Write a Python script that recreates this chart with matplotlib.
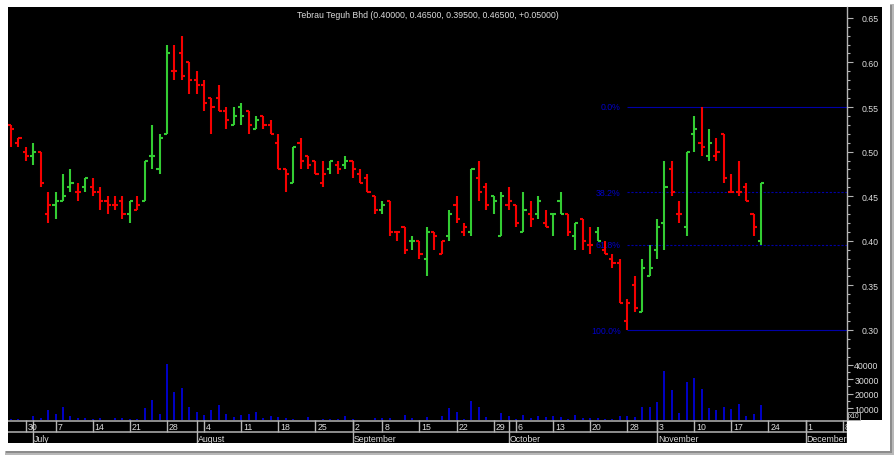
import numpy as np
import matplotlib
matplotlib.use("Agg")
import matplotlib.pyplot as plt
from matplotlib.collections import LineCollection
from matplotlib.patches import Rectangle

plt.rcParams["font.family"] = ["Liberation Sans", "DejaVu Sans"]

# Tebrau Teguh Bhd - daily bars, 26 Jun .. 21 Nov (trading days)
title = "Tebrau Teguh Bhd (0.40000, 0.46500, 0.39500, 0.46500, +0.05000)"

opens = [0.530, 0.510, 0.500, 0.495, 0.500, 0.430, 0.440, 0.445, 0.460, 0.455,
         0.460, 0.460, 0.455, 0.445, 0.440, 0.445, 0.430, 0.435, 0.445, 0.495,
         0.480, 0.520, 0.590, 0.610, 0.600, 0.580, 0.575, 0.560, 0.560, 0.545,
         0.530, 0.550, 0.545, 0.525, 0.540, 0.530, 0.510, 0.480, 0.465, 0.510,
         0.495, 0.490, 0.465, 0.480, 0.485, 0.485, 0.490, 0.475, 0.470, 0.450,
         0.435, 0.445, 0.410, 0.415, 0.400, 0.400, 0.380, 0.410, 0.385, 0.405,
         0.440, 0.410, 0.410, 0.470, 0.460, 0.450, 0.405, 0.440, 0.440, 0.410,
         0.430, 0.430, 0.420, 0.430, 0.445, 0.430, 0.405, 0.425, 0.395, 0.410,
         0.390, 0.380, 0.375, 0.310, 0.350, 0.320, 0.360, 0.390, 0.420, 0.480,
         0.430, 0.415, 0.520, 0.510, 0.495, 0.495, 0.520, 0.455, 0.455, 0.460,
         0.430, 0.400]
highs = [0.530, 0.515, 0.505, 0.510, 0.500, 0.455, 0.455, 0.475, 0.480, 0.465,
         0.470, 0.470, 0.460, 0.450, 0.450, 0.450, 0.445, 0.450, 0.490, 0.530,
         0.520, 0.620, 0.620, 0.630, 0.600, 0.590, 0.580, 0.560, 0.575, 0.550,
         0.550, 0.555, 0.545, 0.540, 0.540, 0.535, 0.520, 0.480, 0.505, 0.515,
         0.495, 0.490, 0.490, 0.490, 0.490, 0.495, 0.490, 0.480, 0.475, 0.450,
         0.445, 0.445, 0.410, 0.415, 0.405, 0.400, 0.415, 0.410, 0.400, 0.435,
         0.450, 0.420, 0.480, 0.490, 0.465, 0.450, 0.455, 0.460, 0.440, 0.455,
         0.445, 0.450, 0.435, 0.430, 0.455, 0.430, 0.420, 0.425, 0.415, 0.415,
         0.400, 0.385, 0.380, 0.335, 0.360, 0.380, 0.395, 0.425, 0.490, 0.490,
         0.445, 0.500, 0.540, 0.550, 0.525, 0.515, 0.520, 0.475, 0.490, 0.465,
         0.430, 0.465]
lows = [0.505, 0.505, 0.490, 0.485, 0.460, 0.420, 0.425, 0.445, 0.455, 0.445,
        0.455, 0.450, 0.435, 0.430, 0.435, 0.425, 0.420, 0.435, 0.445, 0.480,
        0.475, 0.520, 0.580, 0.580, 0.565, 0.565, 0.545, 0.520, 0.545, 0.525,
        0.530, 0.530, 0.520, 0.525, 0.525, 0.520, 0.480, 0.455, 0.465, 0.480,
        0.480, 0.475, 0.460, 0.475, 0.475, 0.480, 0.470, 0.465, 0.455, 0.430,
        0.430, 0.405, 0.400, 0.385, 0.390, 0.380, 0.360, 0.390, 0.385, 0.400,
        0.420, 0.405, 0.405, 0.445, 0.435, 0.430, 0.405, 0.435, 0.415, 0.410,
        0.415, 0.425, 0.415, 0.405, 0.430, 0.405, 0.390, 0.390, 0.385, 0.400,
        0.385, 0.370, 0.330, 0.300, 0.320, 0.320, 0.360, 0.380, 0.390, 0.450,
        0.420, 0.405, 0.500, 0.495, 0.490, 0.490, 0.465, 0.455, 0.450, 0.445,
        0.405, 0.395]
closes = [0.525, 0.515, 0.495, 0.500, 0.465, 0.440, 0.445, 0.450, 0.465, 0.455,
          0.470, 0.455, 0.445, 0.440, 0.440, 0.430, 0.445, 0.440, 0.490, 0.495,
          0.515, 0.610, 0.590, 0.585, 0.580, 0.575, 0.555, 0.550, 0.545, 0.535,
          0.540, 0.540, 0.530, 0.535, 0.530, 0.520, 0.480, 0.475, 0.505, 0.490,
          0.485, 0.475, 0.475, 0.490, 0.480, 0.490, 0.480, 0.465, 0.455, 0.435,
          0.440, 0.410, 0.410, 0.390, 0.400, 0.385, 0.410, 0.405, 0.400, 0.430,
          0.425, 0.415, 0.480, 0.455, 0.440, 0.445, 0.450, 0.445, 0.420, 0.435,
          0.425, 0.445, 0.415, 0.430, 0.430, 0.410, 0.420, 0.400, 0.395, 0.400,
          0.385, 0.375, 0.330, 0.330, 0.325, 0.370, 0.370, 0.415, 0.460, 0.455,
          0.430, 0.500, 0.525, 0.505, 0.510, 0.500, 0.470, 0.455, 0.455, 0.445,
          0.415, 0.465]
volumes = [2800, 2400, 1000, 4500, 3300, 8600, 5800, 11000, 4900, 3100,
           3100, 2400, 3500, 2000, 3300, 3500, 2800, 2800, 10400, 15500,
           6000, 40700, 21200, 23900, 10900, 7400, 5400, 8800, 12200, 5800,
           4200, 5400, 5800, 7400, 3300, 4500, 4200, 3300, 2600, 2000,
           4000, 2000, 2800, 2800, 2800, 4900, 2400, 2000, 1700, 3300,
           3100, 3100, 2000, 5400, 3300, 2000, 3800, 1700, 4500, 10000,
           7400, 2400, 15000, 11100, 3800, 1700, 7000, 4500, 2400, 5600,
           3300, 4500, 3800, 4900, 4000, 2400, 5600, 3300, 3500, 3300,
           2800, 2600, 4700, 4900, 4000, 10700, 10900, 14300, 35900, 22600,
           7000, 28100, 30600, 23300, 10400, 8600, 10900, 9500, 12900, 4900,
           6300, 12000]

# date scale (positions are trading-day bar numbers)
day_ticks = [2, 6, 11, 16, 21, 26, 31, 36, 41, 46, 50, 55, 60, 65, 68, 73,
             78, 83, 87, 92, 97, 102, 107, 112]
day_labels = ["30", "7", "14", "21", "28", "4", "11", "18", "25", "2", "8",
              "15", "22", "29", "6", "13", "20", "28", "3", "10", "17", "24",
              "1", "8"]
month_ticks = [3, 25, 46, 67, 87, 107]
month_labels = ["July", "August", "September", "October", "November", "December"]

# fibonacci retracement drawn from the October low
fib_high = 0.55
fib_low = 0.30
fib_start = 83
fib_ratios = [0.0, 0.382, 0.618, 1.0]
fib_labels = ["0.0%", "38.2%", "61.8%", "100.0%"]

RED = "#f50000"
GREEN = "#33cc33"
GREY = "#b4b4b4"
TXT = "#dcdcdc"
W, H = 894, 456
XL = (-0.404, 112.58)


def frac(x0, y0, x1, y1):
    # pixel box (top-left origin) -> figure fraction [left, bottom, w, h]
    return [x0 / W, 1 - y1 / H, (x1 - x0) / W, (y1 - y0) / H]


def rect(x0, y0, x1, y1, color, z):
    l, b, w, h = frac(x0, y0, x1, y1)
    fig.add_artist(Rectangle((l, b), w, h, transform=fig.transFigure,
                             facecolor=color, edgecolor="none", zorder=z))


fig = plt.figure(figsize=(W / 100, H / 100), dpi=100)
fig.patch.set_facecolor("white")

# frame, shadow and black chart area
rect(5, 5, 894, 456, "#b8b8b8", -20)
rect(6, 6, 892, 454, "#8c8c8c", -19)
rect(0, 0, 890, 452, "white", -18)
rect(8, 8, 882, 421, "black", -17)
rect(8, 421, 847, 444, "black", -17)

# ---- price panel ----
ax = fig.add_axes(frac(8, 8, 847, 360))
ax.set_facecolor("black")
ax.set_xlim(*XL)
ax.set_ylim(0.30 - 29 / 892, 0.30 + 323 / 892)

# colour: up on previous close -> green, down -> red, unchanged keeps colour
cols = []
prev_col = RED
for i in range(len(closes)):
    if i > 0 and closes[i] > closes[i - 1]:
        prev_col = GREEN
    elif i > 0 and closes[i] < closes[i - 1]:
        prev_col = RED
    cols.append(prev_col)

tw = 0.42
segs, seg_cols = [], []
for i in range(len(closes)):
    segs.append([(i, lows[i]), (i, highs[i])])
    segs.append([(i - tw, opens[i]), (i, opens[i])])
    segs.append([(i, closes[i]), (i + tw, closes[i])])
    seg_cols += [cols[i]] * 3
ax.add_collection(LineCollection(segs, colors=seg_cols, linewidths=1.5,
                                 capstyle="butt", zorder=3))

for r, lab in zip(fib_ratios, fib_labels):
    lvl = fib_high - r * (fib_high - fib_low)
    ls = "-" if r in (0.0, 1.0) else (0, (2, 1.5))
    ax.hlines(lvl, fib_start, XL[1], colors="#0000a8", linewidth=0.8,
              linestyles=ls, zorder=2)
    ax.text(82.1, lvl, lab, ha="right", va="center", fontsize=6.3,
            color="#0000c8", zorder=1)

ax.yaxis.tick_right()
ax.set_yticks(np.arange(0.30, 0.651, 0.05))
ax.set_yticklabels([f"{v:.2f}" for v in np.arange(0.30, 0.651, 0.05)])
ax.set_yticks(np.arange(0.27, 0.655, 0.01), minor=True)
ax.tick_params(axis="y", which="major", direction="out", length=4.3, width=0.8,
               color=GREY, labelcolor=TXT, labelsize=6.3, pad=18.5)
ax.tick_params(axis="y", which="minor", direction="out", length=2.2, width=0.8,
               color=GREY)
ax.tick_params(axis="x", which="both", bottom=False, labelbottom=False)
for lab in ax.get_yticklabels():
    lab.set_ha("right")
for s in ["top", "left", "bottom"]:
    ax.spines[s].set_visible(False)
ax.spines["right"].set_color(GREY)
ax.spines["right"].set_linewidth(1.0)

# ---- volume panel ----
axv = fig.add_axes(frac(8, 360, 847, 421))
axv.set_facecolor("none")
axv.set_xlim(*XL)
px_per = 14.53 / 10000
axv.set_ylim((423.8 - 421) / px_per, (423.8 - 360) / px_per)
axv.vlines(np.arange(len(volumes)), 0, volumes, colors="#0000ff", linewidth=1.1)
axv.yaxis.tick_right()
axv.set_yticks([10000, 20000, 30000, 40000])
axv.set_yticklabels(["10000", "20000", "30000", "40000"])
axv.set_yticks([5000, 15000, 25000, 35000], minor=True)
axv.tick_params(axis="y", which="major", direction="out", length=4.3, width=0.8,
                color=GREY, labelcolor=TXT, labelsize=6.3, pad=18.5)
axv.tick_params(axis="y", which="minor", direction="out", length=2.2, width=0.8,
                color=GREY)
axv.tick_params(axis="x", which="both", bottom=False, labelbottom=False)
for lab in axv.get_yticklabels():
    lab.set_ha("right")
for s in ["top", "left", "bottom"]:
    axv.spines[s].set_visible(False)
axv.spines["right"].set_color(GREY)
axv.spines["right"].set_linewidth(1.0)

fig.text(849 / W, 1 - 417 / H, "x10", ha="left", va="center", fontsize=4.8,
         color=TXT, bbox=dict(boxstyle="square,pad=0.12", facecolor="black",
                              edgecolor=GREY, linewidth=0.6))

# ---- date band ----
axd = fig.add_axes(frac(8, 421, 847, 444))
axd.set_facecolor("black")
axd.set_xlim(*XL)
axd.set_ylim(23, 0)
axd.axis("off")
axd.axhline(0.7, color=GREY, linewidth=1.1)
axd.axhline(12.2, color=GREY, linewidth=1.1)
axd.axvline(XL[1] - 0.05, color=GREY, linewidth=1.0)
axd.vlines(day_ticks, 0, 12.2, colors=GREY, linewidth=1.0)
axd.vlines(month_ticks, 0, 23, colors=GREY, linewidth=1.0)
for t, lab in zip(day_ticks, day_labels):
    axd.text(t + 0.25, 6.7, lab, ha="left", va="center", fontsize=6.3,
             color=TXT, clip_on=True)
for t, lab in zip(month_ticks, month_labels):
    axd.text(t + 0.15, 18.3, lab, ha="left", va="center", fontsize=6.3,
             color=TXT, clip_on=True)

fig.text(427.5 / W, 1 - 15.5 / H, title, ha="center", va="center",
         fontsize=6.3, color=TXT)

fig.savefig("out.png", dpi=100, facecolor=fig.get_facecolor())
